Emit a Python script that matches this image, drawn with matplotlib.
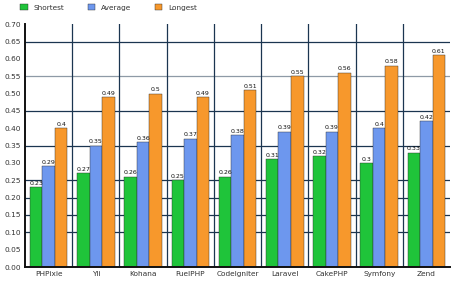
import matplotlib.pyplot as plt
import numpy as np

frameworks = ['PHPixie', 'Yii', 'Kohana', 'FuelPHP', 'CodeIgniter', 'Laravel', 'CakePHP', 'Symfony', 'Zend']
shortest = [0.23, 0.27, 0.26, 0.25, 0.26, 0.31, 0.32, 0.3, 0.33]
average = [0.29, 0.35, 0.36, 0.37, 0.38, 0.39, 0.39, 0.4, 0.42]
longest = [0.4, 0.49, 0.5, 0.49, 0.51, 0.55, 0.56, 0.58, 0.61]
series_names = ['Shortest', 'Average', 'Longest']
colors = ['#1fc43a', '#6d97ee', '#f7982c']

fig = plt.figure(figsize=(4.58, 2.83), dpi=100)
ax = fig.add_axes([0.0546, 0.0565, 0.928, 0.858])

x = np.arange(len(frameworks))
w = 0.265
grid_col = '#1b3550'

# horizontal lines (the ones that show in the reference)
for gy in [0.10, 0.15, 0.20, 0.25, 0.35, 0.45, 0.65]:
    ax.axhline(gy, color=grid_col, lw=0.9, zorder=0)
ax.axhline(0.55, color='#8e9aa6', lw=0.9, zorder=0)
# vertical separators between groups
for gx in x[1:] - 0.5:
    ax.plot([gx, gx], [0, 0.70], color=grid_col, lw=0.9, zorder=0)

for i, (vals, name, c) in enumerate(zip([shortest, average, longest], series_names, colors)):
    pos = x + (i - 1) * w
    ax.bar(pos, vals, w, color=c, label=name, zorder=2,
           edgecolor='#2a2a2a', linewidth=0.3)
    for px, v in zip(pos, vals):
        ax.text(px, v + 0.004, f'{v:g}', ha='center', va='bottom',
                fontsize=4.5, color='#111111', zorder=3)

ax.set_xlim(-0.5, len(frameworks) - 0.5)
ax.set_ylim(0, 0.70)
ax.set_yticks(np.arange(0, 0.701, 0.05))
ax.set_yticklabels([f'{v:.2f}' for v in np.arange(0, 0.701, 0.05)], fontsize=5.3, color='#333333')
ax.set_xticks(x)
ax.set_xticklabels(frameworks, fontsize=5.3, color='#333333')
ax.tick_params(axis='both', length=0, pad=3)

for s in ['top', 'right']:
    ax.spines[s].set_visible(False)
ax.spines['left'].set_linewidth(1.4)
ax.spines['bottom'].set_linewidth(1.4)
ax.spines['left'].set_color('#111111')
ax.spines['bottom'].set_color('#111111')

fig.legend(loc='upper left', bbox_to_anchor=(0.03, 1.01), ncol=3, fontsize=5.3,
           frameon=False, handlelength=1.0, handleheight=1.0, columnspacing=3.2,
           handletextpad=0.8, labelcolor='#333333')

fig.savefig('out.png', dpi=100)
